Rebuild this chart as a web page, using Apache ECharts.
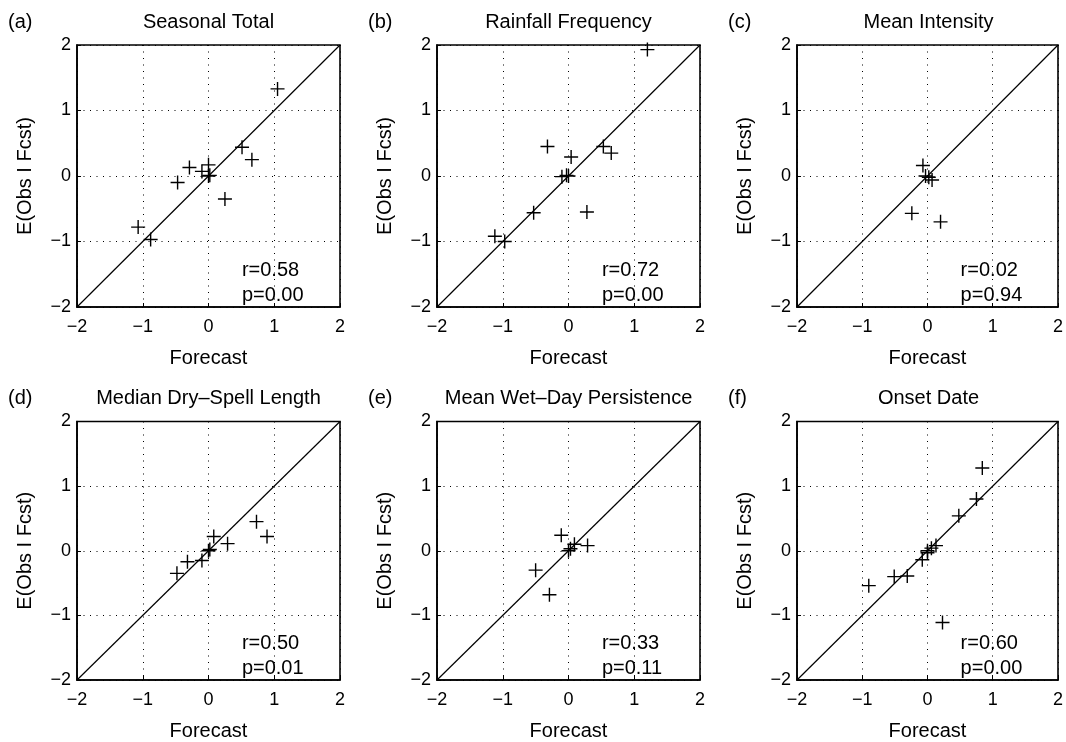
<!DOCTYPE html>
<html>
<head>
<meta charset="utf-8">
<script src="https://cdn.jsdelivr.net/npm/echarts@6/dist/echarts.min.js"></script>
<style>
  html, body { margin: 0; padding: 0; background: #fff; }
  #chart { width: 1066px; height: 742px; }
</style>
</head>
<body>
<div id="chart"></div>
<script>
// Panel titles and tags
const panelTitles = ['Seasonal Total', 'Rainfall Frequency', 'Mean Intensity',
                     'Median Dry–Spell Length', 'Mean Wet–Day Persistence', 'Onset Date'];
const panelTags = ['(a)', '(b)', '(c)', '(d)', '(e)', '(f)'];
const xAxisName = 'Forecast';
const yAxisName = 'E(Obs I Fcst)';
const axisMin = -2;
const axisMax = 2;
const axisStep = 1;

// [forecast, E(obs | fcst)] pairs per panel
const seasonalTotal = [
  [1.05, 1.33], [0.51, 0.44], [0.66, 0.25], [0.25, -0.35], [0.00, 0.17],
  [0.00, 0.00], [0.02, 0.01], [-0.10, 0.07], [-0.29, 0.13], [-0.47, -0.10],
  [-1.07, -0.78], [-0.88, -0.97]
];
const rainfallFrequency = [
  [1.20, 1.93], [0.53, 0.45], [0.65, 0.35], [0.04, 0.29], [-0.32, 0.45],
  [-0.10, -0.01], [0.00, 0.00], [-0.03, 0.01], [0.28, -0.55], [-0.53, -0.56],
  [-1.12, -0.92], [-0.97, -1.00]
];
const meanIntensity = [
  [-0.07, 0.16], [-0.03, 0.00], [0.07, -0.06], [0.02, -0.02],
  [-0.24, -0.57], [0.20, -0.70]
];
const dryspellLength = [
  [0.73, 0.45], [0.89, 0.22], [0.08, 0.22], [0.29, 0.11], [0.00, 0.00],
  [0.02, 0.02], [-0.10, -0.15], [-0.32, -0.17], [-0.48, -0.35]
];
const wetdayPersistence = [
  [-0.11, 0.24], [0.09, 0.10], [0.29, 0.08], [0.00, 0.00],
  [0.03, 0.03], [-0.50, -0.30], [-0.29, -0.68]
];
const onsetDate = [
  [0.84, 1.28], [0.75, 0.80], [0.48, 0.54], [0.13, 0.08], [0.06, 0.04],
  [0.00, 0.00], [0.00, -0.03], [-0.08, -0.14], [-0.31, -0.39], [-0.51, -0.40],
  [-0.90, -0.54], [0.23, -1.11]
];
const panelData = [seasonalTotal, rainfallFrequency, meanIntensity,
                   dryspellLength, wetdayPersistence, onsetDate];

// Correlation and p-value per panel
const rValues = ['0.58', '0.72', '0.02', '0.50', '0.33', '0.60'];
const pValues = ['0.00', '0.00', '0.94', '0.01', '0.11', '0.00'];

// Layout of the 2 x 3 panels (pixels)
const colLefts = [77, 437, 797];
const rowTops = [45, 421.5];
const plotW = 263;
const plotH = 262;
const FONT = 'Liberation Sans, Arial, Helvetica, sans-serif';

const plusSymbol = 'path://M0,7L14,7M7,0L7,14';
const fmtTick = v => String(v).replace('-', '\u2212');

const grids = [], xAxes = [], yAxes = [], series = [], graphics = [];

panelData.forEach((pts, i) => {
  const col = i % 3, row = Math.floor(i / 3);
  const left = colLefts[col], top = rowTops[row];

  grids.push({
    left: left, top: top, width: plotW, height: plotH,
    show: true, borderColor: '#000', borderWidth: 1.6, backgroundColor: '#fff'
  });

  const axisCommon = {
    gridIndex: i, type: 'value', min: axisMin, max: axisMax, interval: axisStep,
    axisLine: { show: true, onZero: false, lineStyle: { color: '#000', width: 1.6 } },
    axisTick: { show: true, inside: true, length: 4, lineStyle: { color: '#000', width: 1 } },
    splitLine: { show: true, lineStyle: { color: '#000', width: 1, type: [1, 5.5] } },
    nameLocation: 'middle',
    nameTextStyle: { fontFamily: FONT, fontSize: 20, color: '#000' }
  };
  xAxes.push(Object.assign({}, axisCommon, {
    name: xAxisName, nameGap: 41,
    axisLabel: { formatter: fmtTick, fontFamily: FONT, fontSize: 18, color: '#000', margin: 11,
                 showMinLabel: true, showMaxLabel: true }
  }));
  yAxes.push(Object.assign({}, axisCommon, {
    name: yAxisName, nameGap: 42,
    axisLabel: { formatter: fmtTick, fontFamily: FONT, fontSize: 18, color: '#000', margin: 6,
                 showMinLabel: true, showMaxLabel: true }
  }));

  // 1:1 reference line
  series.push({
    type: 'line', xAxisIndex: i, yAxisIndex: i, silent: true,
    data: [[axisMin, axisMin], [axisMax, axisMax]],
    symbol: 'none', lineStyle: { color: '#000', width: 1.2, opacity: 1 }, z: 2
  });
  // Forecast / outcome pairs
  series.push({
    type: 'scatter', xAxisIndex: i, yAxisIndex: i,
    data: pts, symbol: plusSymbol, symbolSize: 14,
    itemStyle: { color: 'none', borderColor: '#000', borderWidth: 1.4, opacity: 1 }, z: 3
  });
  // r and p annotations
  series.push({
    type: 'scatter', xAxisIndex: i, yAxisIndex: i, silent: true,
    data: [
      { value: [0.5, -1.44], label: { formatter: 'r=' + rValues[i] } },
      { value: [0.5, -1.82], label: { formatter: 'p=' + pValues[i] } }
    ],
    symbolSize: 1, itemStyle: { color: 'rgba(0,0,0,0)', opacity: 1 },
    label: { show: true, position: 'right', distance: 0, fontFamily: FONT, fontSize: 20,
             color: '#000', opacity: 1 },
    z: 4
  });

  // Panel title and tag
  graphics.push({
    type: 'text', x: left + plotW / 2, y: top - 23,
    style: { text: panelTitles[i], fontFamily: FONT, fontSize: 20, fill: '#000',
             align: 'center', verticalAlign: 'middle' }
  });
  graphics.push({
    type: 'text', x: left - 69, y: top - 23,
    style: { text: panelTags[i], fontFamily: FONT, fontSize: 20, fill: '#000',
             align: 'left', verticalAlign: 'middle' }
  });
});

const chart = echarts.init(document.getElementById('chart'), null, { renderer: 'canvas' });
chart.setOption({
  backgroundColor: '#fff',
  animation: false,
  grid: grids,
  xAxis: xAxes,
  yAxis: yAxes,
  series: series,
  graphic: graphics
});
</script>
</body>
</html>
